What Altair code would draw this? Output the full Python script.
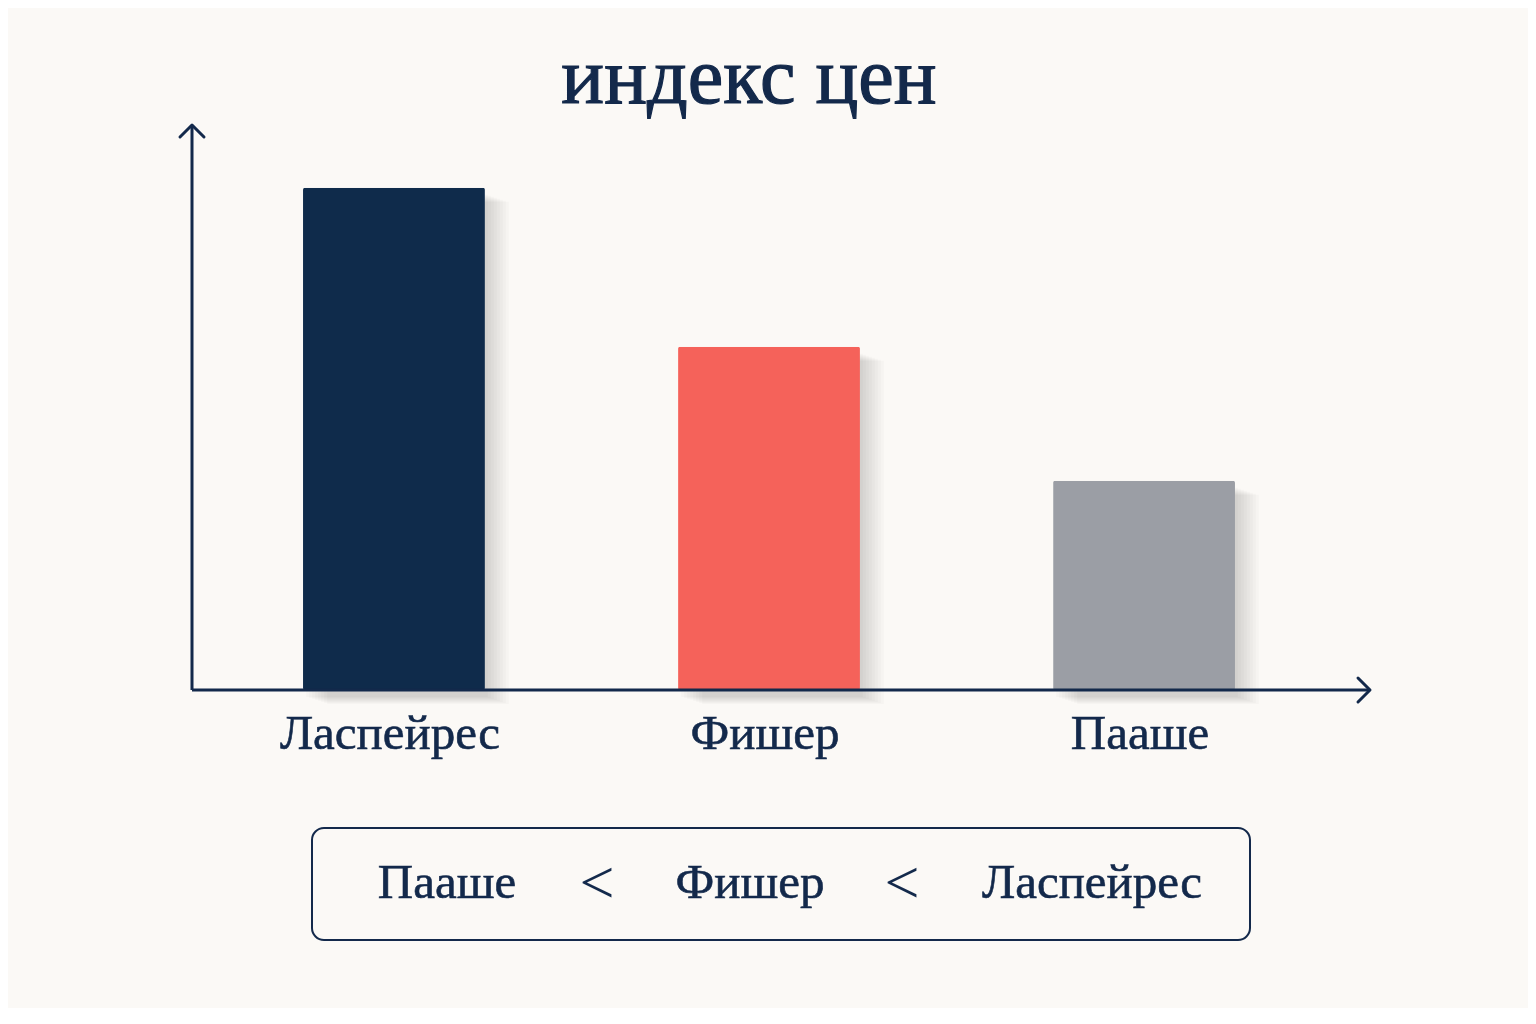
import altair as alt
import pandas as pd

categories = ["Ласпейрес", "Фишер", "Пааше"]
values = [1.20, 0.82, 0.50]
colors = ["#0f2b4b", "#f5625a", "#9b9ea5"]
title_text = "индекс цен"
order_labels = ["Пааше", "<", "Фишер", "<", "Ласпейрес"]
order_x = [255, 405, 558, 710, 900]

NAVY = "#13294b"
BG = "#fbf9f6"
FONT = "Liberation Serif"
W, H = 1154, 565

df = pd.DataFrame({"cat": categories, "val": values, "col": colors})

xenc = alt.X("cat:N", sort=categories,
             scale=alt.Scale(paddingInner=0.515, paddingOuter=0.296),
             axis=None)
yenc = alt.Y("val:Q", scale=alt.Scale(domain=[0, 1.35]), axis=None)

base = alt.Chart(df)

shadows = [
    base.mark_bar(color="#000000", opacity=0.018, xOffset=k * 3, yOffset=6 + k)
    .encode(x=xenc, y=yenc)
    for k in range(1, 9)
]

bars = base.mark_bar(cornerRadius=2).encode(
    x=xenc, y=yenc, color=alt.Color("col:N", scale=None)
)

labels = base.mark_text(font=FONT, fontSize=49, color=NAVY, stroke=NAVY,
                        strokeWidth=0.6, baseline="alphabetic", align="center",
                        dx=-4).encode(
    x=xenc, text="cat:N", y=alt.value(H + 59))

line_df = pd.DataFrame({"a": [0]})
lb = alt.Chart(line_df)
yaxis = lb.mark_rule(color=NAVY, strokeWidth=3).encode(
    x=alt.value(0), y=alt.value(0), y2=alt.value(H))
xaxis = lb.mark_rule(color=NAVY, strokeWidth=3).encode(
    x=alt.value(0), x2=alt.value(1178), y=alt.value(H))
up_arrow = lb.mark_point(shape="M-1,1 L0,0 L1,1", size=576, filled=False,
                         stroke=NAVY, strokeWidth=3, opacity=1,
                         strokeCap="round", strokeJoin="round").encode(
    x=alt.value(0), y=alt.value(0))
right_arrow = lb.mark_point(shape="M-1,-1 L0,0 L-1,1", size=576, filled=False,
                            stroke=NAVY, strokeWidth=3, opacity=1,
                            strokeCap="round", strokeJoin="round").encode(
    x=alt.value(1178), y=alt.value(H))

title = alt.Chart(pd.DataFrame({"t": [title_text]})).mark_text(
    font=FONT, fontSize=80, color=NAVY, stroke=NAVY, strokeWidth=1.2,
    baseline="alphabetic", align="center").encode(
    text="t:N", x=alt.value(557), y=alt.value(-22))

box = lb.mark_rect(fill=BG, stroke=NAVY, strokeWidth=2, cornerRadius=12).encode(
    x=alt.value(120), x2=alt.value(1058), y=alt.value(703), y2=alt.value(815))

odf = pd.DataFrame({"t": order_labels, "px": order_x})
obase = alt.Chart(odf)
order_words = obase.mark_text(font=FONT, fontSize=49, color=NAVY, stroke=NAVY,
                              strokeWidth=0.6, baseline="alphabetic",
                              align="center").encode(
    text="t:N", x=alt.X("px:Q", scale=None, axis=None),
    y=alt.value(773)).transform_filter(alt.datum.t != "<")
order_signs = obase.mark_text(font=FONT, fontSize=62, color=NAVY,
                              baseline="alphabetic", align="center").encode(
    text="t:N", x=alt.X("px:Q", scale=None, axis=None),
    y=alt.value(778)).transform_filter(alt.datum.t == "<")

chart = alt.layer(
    *shadows, bars, labels, yaxis, xaxis, up_arrow, right_arrow, title,
    box, order_words, order_signs
).properties(
    width=W, height=H,
    background=BG,
    padding={"left": 184, "top": 117, "right": 182, "bottom": 318},
    autosize=alt.AutoSizeParams(type="none"),
).configure_view(stroke=None)

chart.save("out.html", embed_options={"renderer": "svg", "actions": False})
